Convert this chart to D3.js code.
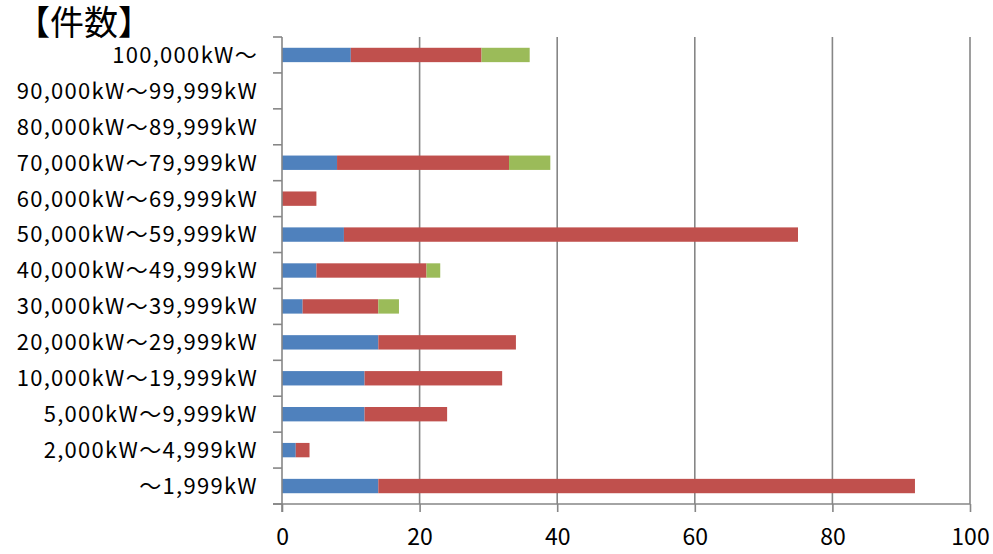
<!DOCTYPE html>
<html>
<head>
<meta charset="utf-8">
<script src="https://cdn.jsdelivr.net/npm/d3@7"></script>
<style>
  body { margin: 0; background: #fff; }
  svg { display: block; }
  text { font-family: "Noto Sans CJK JP", "Noto Sans", sans-serif; fill: #000; }
</style>
</head>
<body>
<svg id="chart" width="993" height="554"></svg>
<script>
// Capacity classes, top to bottom
const categories = [
  "100,000kW～",
  "90,000kW～99,999kW",
  "80,000kW～89,999kW",
  "70,000kW～79,999kW",
  "60,000kW～69,999kW",
  "50,000kW～59,999kW",
  "40,000kW～49,999kW",
  "30,000kW～39,999kW",
  "20,000kW～29,999kW",
  "10,000kW～19,999kW",
  "5,000kW～9,999kW",
  "2,000kW～4,999kW",
  "～1,999kW"
];
// Counts per class for the three stacked series
const series1 = [10, 0, 0, 8, 0, 9, 5, 3, 14, 12, 12, 2, 14];
const series2 = [19, 0, 0, 25, 5, 66, 16, 11, 20, 20, 12, 2, 78];
const series3 = [7, 0, 0, 6, 0, 0, 2, 3, 0, 0, 0, 0, 0];
const seriesNames = ["series1", "series2", "series3"];
const seriesColors = ["#4F81BD", "#C0504D", "#9BBB59"];
const xTicks = [0, 20, 40, 60, 80, 100];
const title = "【件数】";

const svg = d3.select("#chart");
const margin = { left: 282, right: 23, top: 37, bottom: 50 };
const W = 993, H = 554;
const plotBottom = H - margin.bottom;
const axisColor = "#868686";

const x = d3.scaleLinear().domain([0, 100]).range([margin.left, W - margin.right]);
// full-height bands for the category slots, narrower inner band for the bars
const slot = d3.scaleBand().domain(categories).range([margin.top, plotBottom]);
const barH = slot.bandwidth() * 0.4;

const table = categories.map((c, i) => ({ cat: c, series1: series1[i], series2: series2[i], series3: series3[i] }));
const stacked = d3.stack().keys(seriesNames)(table);

// vertical gridlines
svg.append("g").selectAll("line").data(xTicks.slice(1)).join("line")
  .attr("x1", d => x(d)).attr("x2", d => x(d))
  .attr("y1", margin.top).attr("y2", plotBottom)
  .attr("stroke", axisColor).attr("stroke-width", 1.6);

// stacked bars
svg.append("g").selectAll("g").data(stacked).join("g")
  .attr("fill", (d, i) => seriesColors[i])
  .selectAll("rect").data(d => d.filter(p => p[1] > p[0])).join("rect")
  .attr("x", d => x(d[0]))
  .attr("width", d => x(d[1]) - x(d[0]))
  .attr("y", d => slot(d.data.cat) + (slot.bandwidth() - barH) / 2)
  .attr("height", barH);

// x axis
const xAxis = d3.axisBottom(x).tickValues(xTicks).tickSize(8).tickPadding(17).tickFormat(d3.format("d"));
const gx = svg.append("g").attr("transform", `translate(0,${plotBottom})`).call(xAxis);
gx.select(".domain").attr("stroke", axisColor).attr("stroke-width", 1.6).attr("d", `M${margin.left - 9},0H${x(100)}`);
gx.selectAll(".tick line").attr("stroke", axisColor).attr("stroke-width", 1.6);
gx.selectAll(".tick text").style("font-size", "23px").style("font-family", "'Noto Sans CJK JP', sans-serif").attr("fill", "#000");

// y axis with ticks at class boundaries
const gy = svg.append("g");
gy.append("line").attr("x1", margin.left).attr("x2", margin.left)
  .attr("y1", margin.top).attr("y2", plotBottom + 8)
  .attr("stroke", axisColor).attr("stroke-width", 1.6);
const bounds = d3.range(categories.length + 1).map(i => margin.top + i * slot.step());
gy.selectAll("line.tk").data(bounds).join("line").attr("class", "tk")
  .attr("x1", margin.left - 9).attr("x2", margin.left)
  .attr("y1", d => d).attr("y2", d => d)
  .attr("stroke", axisColor).attr("stroke-width", 1.6);
gy.selectAll("text").data(categories).join("text")
  .attr("x", margin.left - 24)
  .attr("y", d => slot(d) + slot.bandwidth() / 2)
  .attr("dy", "0.36em")
  .attr("text-anchor", "end")
  .style("font-size", "22px")
  .style("letter-spacing", "1.3px")
  .text(d => d);

// title
svg.append("text").attr("x", 16).attr("y", 35).style("font-size", "34px").text(title);
</script>
</body>
</html>
